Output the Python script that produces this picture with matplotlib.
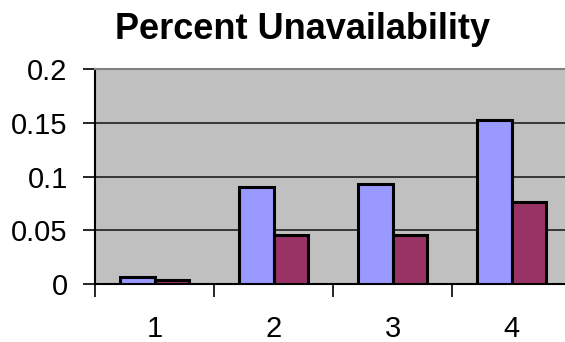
import matplotlib
matplotlib.use("Agg")
import matplotlib.pyplot as plt
import numpy as np

categories = ["1", "2", "3", "4"]
series_a = [0.0068, 0.0905, 0.093, 0.153]
series_b = [0.0037, 0.0456, 0.0456, 0.076]
yticks = [0, 0.05, 0.1, 0.15, 0.2]
ytick_labels = ["0", "0.05", "0.1", "0.15", "0.2"]

plt.rcParams['font.family'] = ['Liberation Sans', 'DejaVu Sans']

fig = plt.figure(figsize=(5.65, 3.42), dpi=100)
ax = fig.add_axes([0.169, 0.1696, 0.8416, 0.628])
ax.set_facecolor('#C0C0C0')

x = np.arange(len(categories))
w = 0.29
ax.bar(x - w / 2, series_a, w, color='#9999FF', edgecolor='black', linewidth=2.2, zorder=3)
ax.bar(x + w / 2, series_b, w, color='#993366', edgecolor='black', linewidth=2.2, zorder=3)

ax.set_xlim(-0.5, 3.5)
ax.set_ylim(0, 0.2)
ax.set_yticks(yticks)
ax.set_yticklabels(ytick_labels, fontsize=21)
ax.yaxis.grid(True, color='#202020', linewidth=1.2, zorder=1)
ax.set_axisbelow(True)

ax.set_xticks(x)
ax.set_xticklabels(categories, fontsize=21)
ax.tick_params(axis='x', which='major', length=0, pad=22)
ax.set_xticks(np.arange(-0.5, 3.5, 1), minor=True)
ax.tick_params(axis='x', which='minor', length=9, width=1.2, direction='out', color='black')
ax.tick_params(axis='y', length=9, width=1.2, direction='out', pad=11)

for s in ['left', 'bottom']:
    ax.spines[s].set_color('black')
    ax.spines[s].set_linewidth(1.5)
ax.spines['top'].set_color('#808080')
ax.spines['top'].set_linewidth(1.5)
ax.spines['right'].set_visible(False)

fig.text(0.535, 1 - 39 / 342, "Percent Unavailability", ha='center', va='baseline',
         fontsize=26, fontweight='bold')

fig.savefig("out.png", dpi=100)
